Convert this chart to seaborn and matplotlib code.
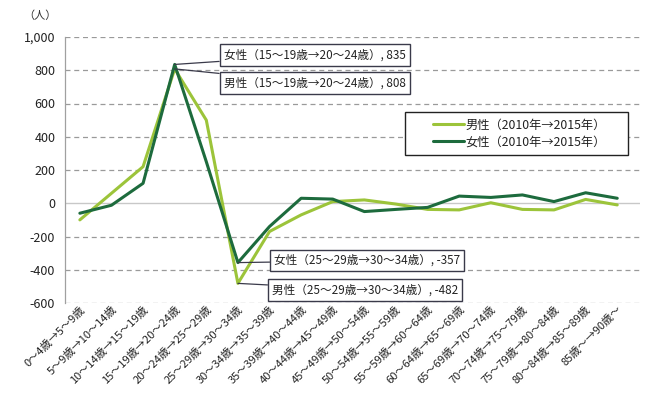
import matplotlib
matplotlib.use("Agg")
import matplotlib.pyplot as plt
import seaborn as sns
import pandas as pd
from matplotlib.ticker import FuncFormatter
from matplotlib.patches import Rectangle

categories = [
    "0～4歳→5～9歳", "5～9歳→10～14歳", "10～14歳→15～19歳", "15～19歳→20～24歳",
    "20～24歳→25～29歳", "25～29歳→30～34歳", "30～34歳→35～39歳", "35～39歳→40～44歳",
    "40～44歳→45～49歳", "45～49歳→50～54歳", "50～54歳→55～59歳", "55～59歳→60～64歳",
    "60～64歳→65～69歳", "65～69歳→70～74歳", "70～74歳→75～79歳", "75～79歳→80～84歳",
    "80～84歳→85～89歳", "85歳～→90歳～",
]
male = [-100, 60, 220, 808, 500, -482, -170, -70, 10, 20, -5, -37, -40, 3, -37, -40, 23, -10]
female = [-60, -12, 120, 835, 250, -357, -140, 30, 25, -50, -37, -25, 43, 35, 50, 10, 63, 30]
series_names = ["男性（2010年→2015年）", "女性（2010年→2015年）"]
colors = ["#9cc43a", "#1d6b3d"]

df = pd.concat([
    pd.DataFrame({"区分": categories, "人数": male, "系列": series_names[0]}),
    pd.DataFrame({"区分": categories, "人数": female, "系列": series_names[1]}),
])

sns.set_theme(style="white")
plt.rcParams["font.family"] = ["Noto Sans CJK JP", "DejaVu Sans"]

fig = plt.figure(figsize=(6.57, 3.94), dpi=100)
ax = fig.add_axes([65 / 657, 1 - 303 / 394, 575 / 657, 266 / 394])

sns.lineplot(data=df, x="区分", y="人数", hue="系列", palette=colors,
             linewidth=2.2, sort=False, ax=ax, legend=True)

ax.set_xlim(-0.47, 17.72)
ax.set_ylim(-600, 1000)
ax.set_yticks(range(-600, 1001, 200))
ax.yaxis.set_major_formatter(FuncFormatter(lambda v, p: f"{int(v):,}"))
for v in range(-600, 1001, 200):
    if v == 0:
        ax.axhline(v, color="#c8c8c8", lw=1.0, zorder=0)
    else:
        ax.axhline(v, color="#9a9a9a", lw=0.9, ls=(0, (4, 3)), zorder=0)

for s in ["top", "right", "bottom"]:
    ax.spines[s].set_visible(False)
ax.spines["left"].set_color("#a0a0a0")
ax.spines["left"].set_linewidth(0.9)
ax.tick_params(axis="y", length=3, color="#a0a0a0", labelsize=9, pad=4, labelcolor="#222222")
ax.tick_params(axis="x", length=0, labelsize=8, pad=1, labelcolor="#222222")
ax.set_xticks(range(len(categories)))
ax.set_xticklabels(categories, rotation=45, ha="right", rotation_mode="anchor")
ax.set_xlabel("")
ax.set_ylabel("")

fig.text(40 / 657, 1 - 16 / 394, "（人）", fontsize=8, ha="center", va="center", color="#333333")

bbox = dict(boxstyle="square,pad=0.35", fc="white", ec="#3a3a4a", lw=1.0)
arrow = dict(arrowstyle="-", color="#3a3a4a", lw=0.9, shrinkA=0, shrinkB=0)
ax.annotate("女性（15～19歳→20～24歳）, 835", xy=(3, female[3]), xytext=(4.55, 892),
            fontsize=8.4, ha="left", va="center", bbox=bbox, arrowprops=arrow, color="#222222")
ax.annotate("男性（15～19歳→20～24歳）, 808", xy=(3, male[3]), xytext=(4.55, 723),
            fontsize=8.4, ha="left", va="center", bbox=bbox, arrowprops=arrow, color="#222222")
ax.annotate("女性（25～29歳→30～34歳）, -357", xy=(5, female[5]), xytext=(6.15, -345),
            fontsize=8.4, ha="left", va="center", bbox=bbox, arrowprops=arrow, color="#222222")
ax.annotate("男性（25～29歳→30～34歳）, -482", xy=(5, male[5]), xytext=(6.08, -522),
            fontsize=8.4, ha="left", va="center", bbox=bbox, arrowprops=arrow, color="#222222")

frame = Rectangle((0.5913, 0.5564), 0.3878, 0.1617, transform=ax.transAxes,
                  fc="white", ec="#222222", lw=1.0, zorder=4)
ax.add_patch(frame)
leg = ax.legend(loc="center", bbox_to_anchor=(0.79, 0.637), fontsize=8.8,
                frameon=False, handlelength=2.6, borderpad=0.2, labelspacing=0.35,
                title=None, handletextpad=0.1)
leg.set_zorder(5)
for t in leg.get_texts():
    t.set_color("#222222")

fig.savefig("out.png", dpi=100)
